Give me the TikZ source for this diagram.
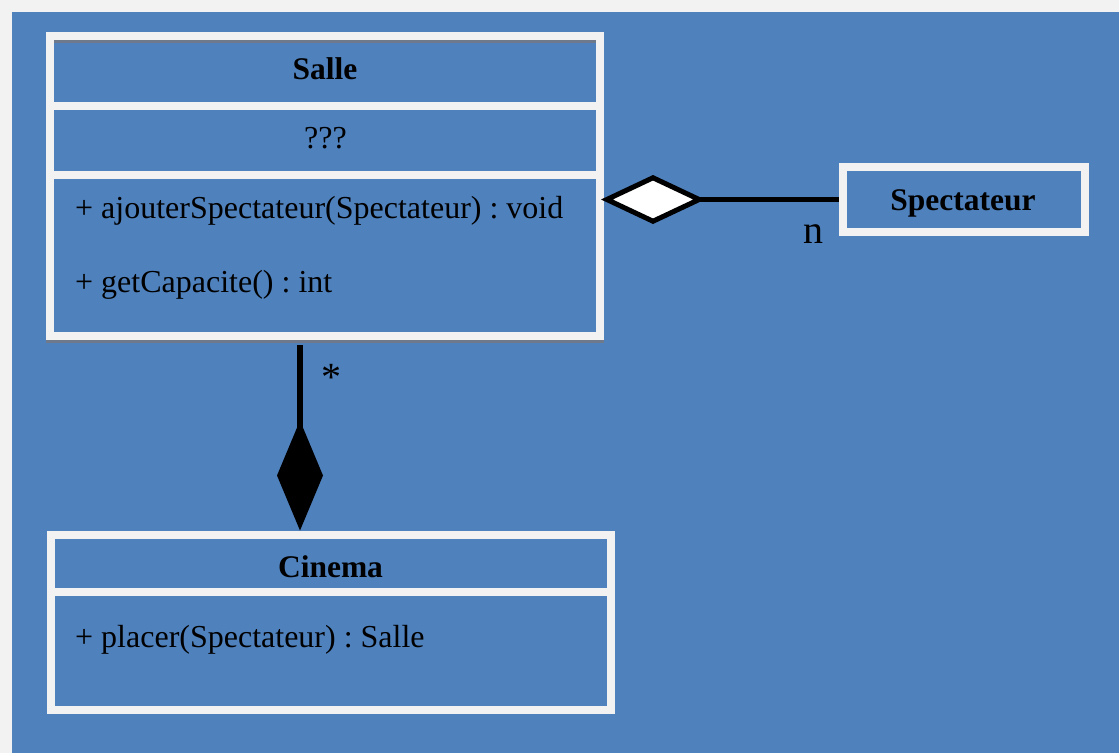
\documentclass[tikz,border=0pt]{standalone}
\usepackage{fontspec}
\setmainfont{Liberation Serif}
\usetikzlibrary{arrows.meta}
\frenchspacing
\definecolor{bluebg}{HTML}{4F81BD}
\definecolor{offwhite}{HTML}{F2F2F2}
\definecolor{shadowc}{RGB}{110,122,140}
\tikzset{
  cls/.style={draw=offwhite, fill=bluebg, line width=8pt, inner sep=0pt},
  sepline/.style={draw=offwhite, line width=8pt},
  title/.style={font=\fontsize{31.5}{37}\selectfont\bfseries, anchor=base, inner sep=0pt},
  plain/.style={font=\fontsize{32}{37}\selectfont, anchor=base, inner sep=0pt},
  member/.style={font=\fontsize{32}{37}\selectfont, anchor=base west, inner sep=0pt},
  mult/.style={font=\fontsize{40}{46}\selectfont, anchor=base, inner sep=0pt},
  agg/.style={line width=5pt, -{Diamond[length=104pt,width=49pt,fill=white,line join=miter]}},
  comp/.style={line width=6pt, -{Diamond[length=110pt,width=46pt,line width=0pt]}},
}
\begin{document}
\begin{tikzpicture}[x=1pt,y=-1pt]
\fill[offwhite] (0,0) rectangle (1119,753);
\fill[bluebg] (12,12) rectangle (1119,753);
\useasboundingbox (0,0) rectangle (1119,753);

% Salle class
\node[cls, minimum width=550pt, minimum height=300pt] (salle) at (325,186) {};
\fill[shadowc] (54,40) rectangle (596,43);
\fill[shadowc] (46,340) rectangle (604,343);
\coordinate (s1) at (0,106);
\coordinate (s2) at (0,175);
\draw[sepline] (salle.west |- s1) -- (salle.east |- s1);
\draw[sepline] (salle.west |- s2) -- (salle.east |- s2);
\node[title] (salleT) at (325,79) {Salle};
\node[plain] (salleA) at (325.5,148) {???};
\node[member] (m1) at (75,218) {+ ajouterSpectateur(Spectateur) : void};
\node[member] (m2) at (75,292) {+ getCapacite() : int};

% Spectateur class
\node[cls, minimum width=242pt, minimum height=65pt] (spect) at (964,199.5) {};
\node[title] (spectT) at (963,210) {Spectateur};

% Cinema class
\node[cls, minimum width=560pt, minimum height=175.5pt] (cinema) at (331,622.25) {};
\coordinate (s3) at (0,592);
\draw[sepline] (cinema.west |- s3) -- (cinema.east |- s3);
\node[title] (cinemaT) at (330.5,577) {Cinema};
\node[member] (m3) at (75,647) {+ placer(Spectateur) : Salle};

% aggregation
\coordinate (aggEnd) at ([xshift=-3pt]salle.east |- spect.west);
\draw[agg] (spect.west) -- (aggEnd);
\node[mult] (nlab) at (813,243) {n};

% composition
\coordinate (cStart) at (300,345);
\draw[comp] (cStart) -- (cStart |- cinema.north);
\node[mult] (star) at (331,390) {*};
\end{tikzpicture}
\end{document}
